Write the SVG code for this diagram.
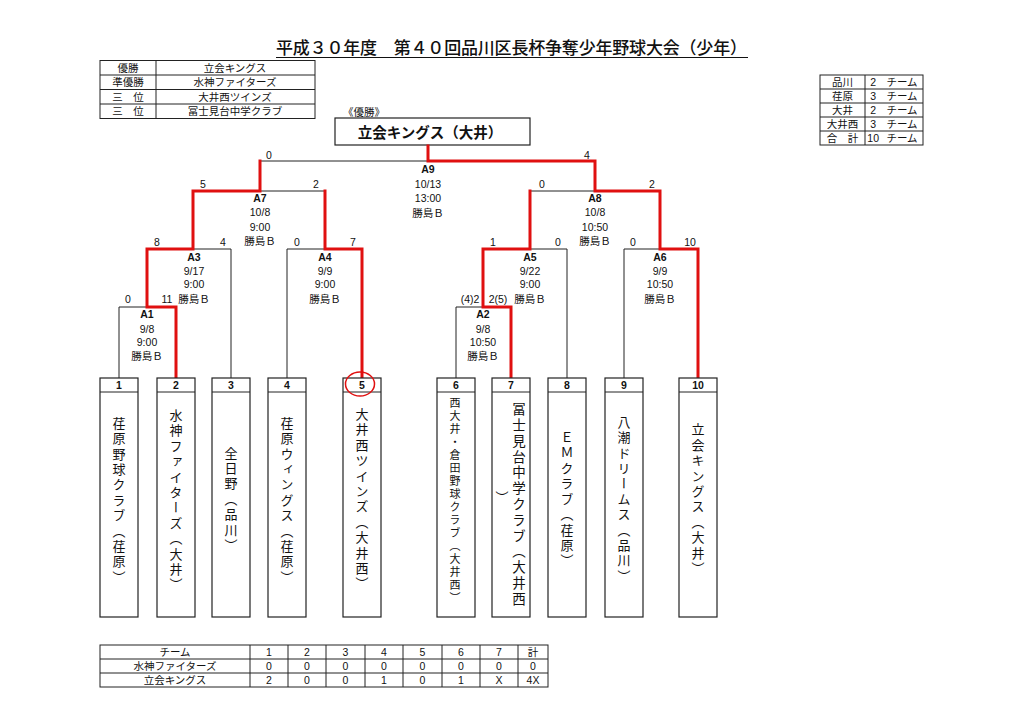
<svg xmlns="http://www.w3.org/2000/svg" width="1024" height="724" viewBox="0 0 1024 724">
<style>
.bg{fill:#fff}
.t{font-family:"Liberation Sans","Noto Sans CJK JP",sans-serif;font-size:10.5px;fill:#111;text-anchor:middle}
.j{font-family:"Noto Sans CJK JP",sans-serif;font-size:10.5px;fill:#111;text-anchor:middle}
.b{font-weight:bold}
.cell{fill:none;stroke:#222;stroke-width:1}
.ln{fill:none;stroke:#222;stroke-width:1}
.red{fill:none;stroke:#e01010;stroke-width:3;stroke-linejoin:miter;stroke-linecap:square}
.box{fill:#fff;stroke:#222;stroke-width:1.2}
.v{font-family:"Noto Sans CJK JP",sans-serif;font-size:13px;fill:#111;writing-mode:vertical-rl;text-anchor:middle;letter-spacing:2.4px}
</style>
<rect class="bg" x="0" y="0" width="1024" height="724"/>

<g id="title">
<text x="276" y="54" font-family="'Noto Sans CJK JP',sans-serif" font-size="17" font-weight="500" fill="#111" textLength="471" lengthAdjust="spacing">平成３０年度　第４０回品川区長杯争奪少年野球大会（少年）</text>
<line x1="276" y1="57.5" x2="748" y2="57.5" stroke="#111" stroke-width="1.2"/>
</g>

<g id="results-table">
<rect class="cell" x="100" y="60.5" width="215" height="58"/>
<line class="cell" x1="156" y1="60.5" x2="156" y2="118.5"/>
<line class="cell" x1="100" y1="75" x2="315" y2="75"/>
<line class="cell" x1="100" y1="89.5" x2="315" y2="89.5"/>
<line class="cell" x1="100" y1="104" x2="315" y2="104"/>
<text class="j" x="128" y="71.5">優勝</text>
<text class="j" x="128" y="86">準優勝</text>
<text class="j" x="128" y="100.5">三　位</text>
<text class="j" x="128" y="115">三　位</text>
<text class="j" x="235" y="71.5">立会キングス</text>
<text class="j" x="235" y="86">水神ファイターズ</text>
<text class="j" x="235" y="100.5">大井西ツインズ</text>
<text class="j" x="235" y="115">冨士見台中学クラブ</text>
</g>

<g id="count-table">
<rect class="cell" x="820" y="75" width="103" height="70"/>
<line class="cell" x1="865" y1="75" x2="865" y2="145"/>
<line class="cell" x1="820" y1="89" x2="923" y2="89"/>
<line class="cell" x1="820" y1="103" x2="923" y2="103"/>
<line class="cell" x1="820" y1="117" x2="923" y2="117"/>
<line class="cell" x1="820" y1="131" x2="923" y2="131"/>
<text class="j" x="842.5" y="86">品川</text>
<text class="j" x="842.5" y="100">荏原</text>
<text class="j" x="842.5" y="114">大井</text>
<text class="j" x="842.5" y="128">大井西</text>
<text class="j" x="842.5" y="142">合　計</text>
<text class="t" x="876" y="86" style="text-anchor:end">2</text>
<text class="t" x="876" y="100" style="text-anchor:end">3</text>
<text class="t" x="876" y="114" style="text-anchor:end">2</text>
<text class="t" x="876" y="128" style="text-anchor:end">3</text>
<text class="t" x="879" y="142" style="text-anchor:end">10</text>
<text class="j" x="902" y="86">チーム</text>
<text class="j" x="902" y="100">チーム</text>
<text class="j" x="902" y="114">チーム</text>
<text class="j" x="902" y="128">チーム</text>
<text class="j" x="902" y="142">チーム</text>
</g>

<g id="champion">
<text class="j" x="364" y="115.5">《優勝》</text>
<rect class="box" x="335" y="118" width="195" height="27"/>
<text x="430" y="137.5" font-family="'Noto Sans CJK JP',sans-serif" font-size="14.5" font-weight="bold" fill="#111" text-anchor="middle">立会キングス（大井）</text>
</g>

<g id="connectors">
<line class="ln" x1="260" y1="161" x2="595" y2="161"/>
<line class="ln" x1="193" y1="191" x2="325" y2="191"/>
<line class="ln" x1="530" y1="191" x2="660" y2="191"/>
<line class="ln" x1="147" y1="249" x2="231" y2="249"/>
<line class="ln" x1="287" y1="249" x2="362" y2="249"/>
<line class="ln" x1="483" y1="249" x2="567" y2="249"/>
<line class="ln" x1="624" y1="249" x2="698" y2="249"/>
<line class="ln" x1="119" y1="307" x2="176" y2="307"/>
<line class="ln" x1="456" y1="307" x2="511" y2="307"/>
<line class="ln" x1="119" y1="307" x2="119" y2="378"/>
<line class="ln" x1="231" y1="249" x2="231" y2="378"/>
<line class="ln" x1="287" y1="249" x2="287" y2="378"/>
<line class="ln" x1="456" y1="307" x2="456" y2="378"/>
<line class="ln" x1="567" y1="249" x2="567" y2="378"/>
<line class="ln" x1="624" y1="249" x2="624" y2="378"/>
<path class="red" d="M176,377 V307 H147 V249 H193 V191 H260 V161"/>
<path class="red" d="M362,377 V249 H325 V191"/>
<path class="red" d="M511,377 V307 H483 V249 H530 V191"/>
<path class="red" d="M698,377 V249 H660 V191 H595 V161 H428 V146"/>
</g>

<g id="scores">
<text class="t" x="269" y="158.5">0</text>
<text class="t" x="587" y="158.5">4</text>
<text class="t" x="203" y="187.5">5</text>
<text class="t" x="316" y="187.5">2</text>
<text class="t" x="542" y="187.5">0</text>
<text class="t" x="652" y="187.5">2</text>
<text class="t" x="157" y="245.5">8</text>
<text class="t" x="223" y="245.5">4</text>
<text class="t" x="297" y="245.5">0</text>
<text class="t" x="353" y="245.5">7</text>
<text class="t" x="493" y="245.5">1</text>
<text class="t" x="558" y="245.5">0</text>
<text class="t" x="633" y="245.5">0</text>
<text class="t" x="690" y="245.5">10</text>
<text class="t" x="128" y="302.5">0</text>
<text class="t" x="167" y="302.5">11</text>
<text class="t" x="470" y="302.5">(4)2</text>
<text class="t" x="498" y="302.5">2(5)</text>
</g>

<g id="match-A9">
<text class="t b" x="428" y="172.5">A9</text>
<text class="t" x="428" y="187.5">10/13</text>
<text class="t" x="428" y="201.5">13:00</text>
<text class="t" x="428" y="216.5">勝島Ｂ</text>
</g>
<g id="match-A7">
<text class="t b" x="260" y="202">A7</text>
<text class="t" x="260" y="216">10/8</text>
<text class="t" x="260" y="230.5">9:00</text>
<text class="t" x="260" y="245">勝島Ｂ</text>
</g>
<g id="match-A8">
<text class="t b" x="595" y="202">A8</text>
<text class="t" x="595" y="216">10/8</text>
<text class="t" x="595" y="230.5">10:50</text>
<text class="t" x="595" y="245">勝島Ｂ</text>
</g>
<g id="match-A3">
<text class="t b" x="194" y="260.5">A3</text>
<text class="t" x="194" y="274.5">9/17</text>
<text class="t" x="194" y="288">9:00</text>
<text class="t" x="194" y="302.5">勝島Ｂ</text>
</g>
<g id="match-A4">
<text class="t b" x="325" y="260.5">A4</text>
<text class="t" x="325" y="274.5">9/9</text>
<text class="t" x="325" y="288">9:00</text>
<text class="t" x="325" y="302.5">勝島Ｂ</text>
</g>
<g id="match-A5">
<text class="t b" x="530" y="260.5">A5</text>
<text class="t" x="530" y="274.5">9/22</text>
<text class="t" x="530" y="288">9:00</text>
<text class="t" x="530" y="302.5">勝島Ｂ</text>
</g>
<g id="match-A6">
<text class="t b" x="660" y="260.5">A6</text>
<text class="t" x="660" y="274.5">9/9</text>
<text class="t" x="660" y="288">10:50</text>
<text class="t" x="660" y="302.5">勝島Ｂ</text>
</g>
<g id="match-A1">
<text class="t b" x="147" y="317.5">A1</text>
<text class="t" x="147" y="332.5">9/8</text>
<text class="t" x="147" y="345.5">9:00</text>
<text class="t" x="147" y="359.5">勝島Ｂ</text>
</g>
<g id="match-A2">
<text class="t b" x="483" y="317.5">A2</text>
<text class="t" x="483" y="332.5">9/8</text>
<text class="t" x="483" y="345.5">10:50</text>
<text class="t" x="483" y="359.5">勝島Ｂ</text>
</g>

<g id="team-1">
<rect class="box" x="100" y="378" width="38" height="239"/>
<line class="cell" x1="100" y1="392" x2="138" y2="392"/>
<text class="t b" x="119" y="389">1</text>
<text class="v" x="119" y="501">荏原野球クラブ（荏原）</text>
</g>
<g id="team-2">
<rect class="box" x="157" y="378" width="38" height="239"/>
<line class="cell" x1="157" y1="392" x2="195" y2="392"/>
<text class="t b" x="176" y="389">2</text>
<text class="v" x="176" y="501">水神ファイターズ（大井）</text>
</g>
<g id="team-3">
<rect class="box" x="212" y="378" width="38" height="239"/>
<line class="cell" x1="212" y1="392" x2="250" y2="392"/>
<text class="t b" x="231" y="389">3</text>
<text class="v" x="231" y="500">全日野（品川）</text>
</g>
<g id="team-4">
<rect class="box" x="268" y="378" width="38" height="239"/>
<line class="cell" x1="268" y1="392" x2="306" y2="392"/>
<text class="t b" x="287" y="389">4</text>
<text class="v" x="287" y="501">荏原ウィングス（荏原）</text>
</g>
<g id="team-5">
<rect class="box" x="343" y="378" width="38" height="239"/>
<line class="cell" x1="343" y1="392" x2="381" y2="392"/>
<text class="t b" x="362" y="389">5</text>
<ellipse cx="360" cy="384" rx="14.5" ry="12" fill="none" stroke="#e01010" stroke-width="1.5"/>
<text class="v" x="362" y="500">大井西ツインズ（大井西）</text>
</g>
<g id="team-6">
<rect class="box" x="437" y="378" width="38" height="239"/>
<line class="cell" x1="437" y1="392" x2="475" y2="392"/>
<text class="t b" x="456" y="389">6</text>
<text class="v" x="455" y="501" style="font-size:11px;letter-spacing:2px">西大井・倉田野球クラブ（大井西）</text>
</g>
<g id="team-7">
<rect class="box" x="492" y="378" width="38" height="239"/>
<line class="cell" x1="492" y1="392" x2="530" y2="392"/>
<text class="t b" x="511" y="389">7</text>
<text class="v" x="519" y="505" style="font-size:13.5px;letter-spacing:2.3px">冨士見台中学クラブ（大井西</text>
<text class="v" x="502" y="498">）</text>
</g>
<g id="team-8">
<rect class="box" x="548" y="378" width="38" height="239"/>
<line class="cell" x1="548" y1="392" x2="586" y2="392"/>
<text class="t b" x="567" y="389">8</text>
<text class="v" x="567" y="500">ＥＭクラブ（荏原）</text>
</g>
<g id="team-9">
<rect class="box" x="605" y="378" width="38" height="239"/>
<line class="cell" x1="605" y1="392" x2="643" y2="392"/>
<text class="t b" x="624" y="389">9</text>
<text class="v" x="624" y="500">八潮ドリームス（品川）</text>
</g>
<g id="team-10">
<rect class="box" x="679" y="378" width="38" height="239"/>
<line class="cell" x1="679" y1="392" x2="717" y2="392"/>
<text class="t b" x="698" y="389">10</text>
<text class="v" x="698" y="500">立会キングス（大井）</text>
</g>

<g id="score-table">
<rect class="cell" x="100" y="645" width="448" height="42"/>
<line class="cell" x1="100" y1="659" x2="548" y2="659"/>
<line class="cell" x1="100" y1="673" x2="548" y2="673"/>
<line class="cell" x1="250" y1="645" x2="250" y2="687"/>
<line class="cell" x1="288" y1="645" x2="288" y2="687"/>
<line class="cell" x1="326" y1="645" x2="326" y2="687"/>
<line class="cell" x1="365" y1="645" x2="365" y2="687"/>
<line class="cell" x1="403" y1="645" x2="403" y2="687"/>
<line class="cell" x1="442" y1="645" x2="442" y2="687"/>
<line class="cell" x1="480" y1="645" x2="480" y2="687"/>
<line class="cell" x1="518" y1="645" x2="518" y2="687"/>
<text class="j" x="175" y="655.5">チーム</text>
<text class="j" x="175" y="669.5">水神ファイターズ</text>
<text class="j" x="175" y="683.5">立会キングス</text>
<text class="t" x="269" y="655.5">1</text>
<text class="t" x="307" y="655.5">2</text>
<text class="t" x="345.5" y="655.5">3</text>
<text class="t" x="384" y="655.5">4</text>
<text class="t" x="422.5" y="655.5">5</text>
<text class="t" x="461" y="655.5">6</text>
<text class="t" x="499" y="655.5">7</text>
<text class="j" x="533" y="655.5">計</text>
<text class="t" x="269" y="669.5">0</text>
<text class="t" x="307" y="669.5">0</text>
<text class="t" x="345.5" y="669.5">0</text>
<text class="t" x="384" y="669.5">0</text>
<text class="t" x="422.5" y="669.5">0</text>
<text class="t" x="461" y="669.5">0</text>
<text class="t" x="499" y="669.5">0</text>
<text class="t" x="533" y="669.5">0</text>
<text class="t" x="269" y="683.5">2</text>
<text class="t" x="307" y="683.5">0</text>
<text class="t" x="345.5" y="683.5">0</text>
<text class="t" x="384" y="683.5">1</text>
<text class="t" x="422.5" y="683.5">0</text>
<text class="t" x="461" y="683.5">1</text>
<text class="t" x="499" y="683.5">X</text>
<text class="t" x="533" y="683.5">4X</text>
</g>
</svg>
